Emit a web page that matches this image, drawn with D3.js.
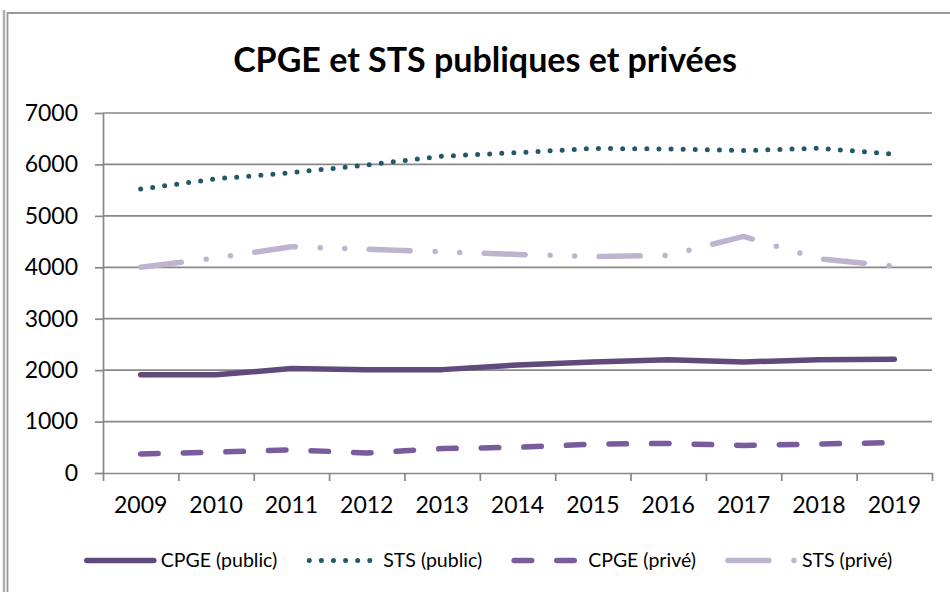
<!DOCTYPE html>
<html>
<head>
<meta charset="utf-8">
<script src="https://cdn.jsdelivr.net/npm/d3@7"></script>
<style>
    body { margin: 0; background: #fff; }
    svg { display: block; font-family: Lato, "Open Sans", sans-serif; }
</style>
</head>
<body>
<div class="graph__canvas"></div>
<script>
//Chart data
const years = ["2009", "2010", "2011", "2012", "2013", "2014", "2015", "2016", "2017", "2018", "2019"];
const cpgePublic = [1910, 1910, 2030, 2010, 2010, 2100, 2160, 2200, 2160, 2200, 2210];
const stsPublic = [5520, 5720, 5840, 5990, 6160, 6230, 6310, 6300, 6270, 6315, 6200];
const cpgePrive = [370, 405, 450, 390, 475, 500, 560, 575, 535, 565, 590];
const stsPrive = [4000, 4180, 4400, 4350, 4300, 4250, 4210, 4230, 4600, 4165, 4020];
const yTicks = [0, 1000, 2000, 3000, 4000, 5000, 6000, 7000];
const title = "CPGE et STS publiques et privées";

//Series: label, values and line style
const series = [
    { name: "CPGE (public)", values: cpgePublic, color: "#604a7b", width: 5.5, dash: null },
    { name: "STS (public)", values: stsPublic, color: "#215968", width: 5, dash: "0 12.1" },
    { name: "CPGE (privé)", values: cpgePrive, color: "#7a5c9c", width: 5.5, dash: "17.5 25.1" },
    { name: "STS (privé)", values: stsPrive, color: "#bfb4d0", width: 5.5, dash: "41 25 0 24.5 0 24.5" }
];

const configuration = {
    width: 950,
    height: 592,
    left: 103,
    right: 932,
    top: 113,
    bottom: 473
};
Object.freeze(configuration);

const svg = d3.select(".graph__canvas")
    .append("svg")
        .attr("width", configuration.width)
        .attr("height", configuration.height);

//Chart frame (screenshot border)
svg.append("line")
    .attr("x1", 4).attr("x2", 4).attr("y1", 10).attr("y2", configuration.height)
    .attr("stroke", "#b0b0b0").attr("stroke-width", 2.5);
svg.append("path")
    .attr("d", `M7.5,${configuration.height} V13 H${configuration.width}`)
    .attr("fill", "none").attr("stroke", "#9a9a9a").attr("stroke-width", 1.8);

//Title
svg.append("text")
    .attr("x", 485)
    .attr("y", 72)
    .attr("text-anchor", "middle")
    .style("font-size", "34px")
    .style("font-weight", "bold")
    .text(title);

//Scales
const x = d3.scaleBand()
    .domain(years)
    .range([configuration.left, configuration.right]);

const xEdges = d3.scaleLinear()
    .domain([0, years.length])
    .range([configuration.left, configuration.right]);

const y = d3.scaleLinear()
    .domain([0, 7000])
    .range([configuration.bottom, configuration.top]);

const axisColor = "#888";

//Gridlines
svg.append("g")
    .selectAll("line")
    .data(yTicks.slice(1))
    .join("line")
        .attr("x1", configuration.left)
        .attr("x2", configuration.right)
        .attr("y1", d => y(d))
        .attr("y2", d => y(d))
        .attr("stroke", axisColor)
        .attr("stroke-width", 1.7);

//Y axis
const yAxis = svg.append("g")
    .attr("transform", `translate(${configuration.left}, 0)`)
    .call(d3.axisLeft(y).tickValues(yTicks).tickFormat(d3.format("d"))
        .tickSize(8).tickPadding(17).tickSizeOuter(0));

//X axis: boundary ticks, then year labels under each band
const xAxis = svg.append("g")
    .attr("transform", `translate(0, ${configuration.bottom})`)
    .call(d3.axisBottom(xEdges).ticks(years.length).tickFormat("").tickSize(8).tickSizeOuter(0));

const xLabels = svg.append("g")
    .attr("transform", `translate(0, ${configuration.bottom})`)
    .call(d3.axisBottom(x).tickSize(0).tickPadding(24));
xLabels.select(".domain").remove();

[yAxis, xAxis].forEach(function(g) {
    g.selectAll(".domain").attr("stroke", axisColor).attr("stroke-width", 1.7);
    g.selectAll(".tick line").attr("stroke", axisColor).attr("stroke-width", 1.7);
});

[yAxis, xLabels].forEach(function(g) {
    g.selectAll("text")
        .attr("fill", "#000")
        .style("font-family", "Lato, 'Open Sans', sans-serif")
        .style("font-size", "23px");
});

//Series lines
const line = d3.line()
    .x((d, i) => x(years[i]) + x.bandwidth() / 2)
    .y(d => y(d));

svg.append("g")
    .selectAll("path")
    .data(series)
    .join("path")
        .attr("d", d => line(d.values))
        .attr("fill", "none")
        .attr("stroke", d => d.color)
        .attr("stroke-width", d => d.width)
        .attr("stroke-linecap", "round")
        .attr("stroke-linejoin", "round")
        .attr("stroke-dasharray", d => d.dash);

//Legend: symbol then label, items laid out by label width and centred
const legendY = 560.5;
const legend = svg.append("g");
const items = legend.selectAll("g")
    .data(series)
    .join("g");

items.append("line")
    .attr("x1", 3)
    .attr("x2", 70)
    .attr("y1", legendY)
    .attr("y2", legendY)
    .attr("stroke", d => d.color)
    .attr("stroke-width", d => d.width)
    .attr("stroke-linecap", "round")
    .attr("stroke-dasharray", d => d.dash);

items.append("text")
    .attr("x", 77)
    .attr("y", legendY)
    .attr("dy", "0.35em")
    .style("font-size", "19.5px")
    .text(d => d.name);

var cursor = 0;
items.each(function() {
    var item = d3.select(this);
    item.attr("transform", `translate(${cursor}, 0)`);
    cursor += 77 + item.select("text").node().getComputedTextLength() + 29;
});
var legendWidth = cursor - 29;
legend.attr("transform", `translate(${488 - legendWidth / 2}, 0)`);
</script>
</body>
</html>
